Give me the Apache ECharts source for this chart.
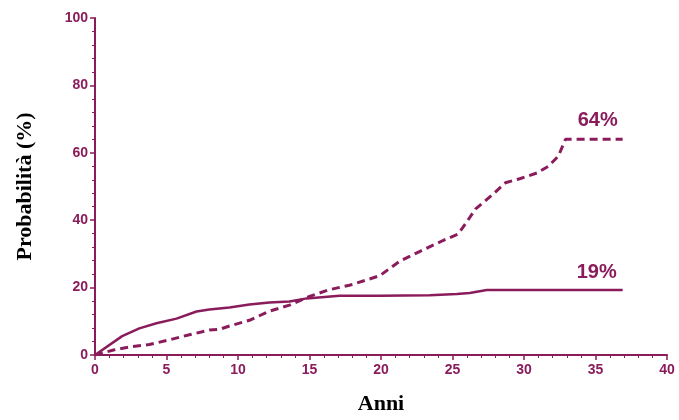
<!DOCTYPE html>
<html>
<head>
<meta charset="utf-8">
<script src="https://cdn.jsdelivr.net/npm/echarts@6/dist/echarts.min.js"></script>
<style>html,body{margin:0;padding:0;background:#fff}#c{width:679px;height:420px}</style>
</head>
<body>
<div id="c"></div>
<script>
// Solid curve (ends at 19%)
var solidSeries = [[0,0],[1.9,5.6],[3.1,7.9],[4.3,9.4],[5.7,10.8],[7.1,12.9],[8,13.5],[9.4,14.1],[10.8,15],[12.2,15.6],[13.6,15.9],[14.8,16.8],[17.1,17.6],[19.9,17.6],[23.4,17.7],[25.3,18.1],[26.2,18.4],[27.4,19.3],[33.9,19.3],[36.9,19.3]];
// Dashed curve (ends at 64%)
var dashedSeries = [[0,0],[1.3,1.5],[2.4,2.4],[3.8,3.1],[5.2,4.5],[6.6,6],[8,7.4],[8.7,7.6],[9.4,8.6],[10.8,10.3],[12.2,13],[13.6,14.8],[15,17.4],[16.4,19.4],[17.8,20.7],[19.9,23.5],[21.3,27.8],[22.7,30.7],[24.3,33.9],[25.4,35.9],[26,39.5],[26.6,43.3],[27.8,47.6],[28.7,51.1],[29.7,52.3],[30.9,54],[31.7,56],[32.4,59],[32.9,64],[36.9,64]];
var endLabels = ['19%', '64%'];
var xTitle = 'Anni';
var yTitle = 'Probabilità (%)';

var C = '#8a1c5b';
var chart = echarts.init(document.getElementById('c'));
var tickFont = {color: C, fontFamily: 'Liberation Sans, Arial, sans-serif', fontWeight: 'bold', fontSize: 14};
var titleFont = {color: '#000', fontFamily: 'Liberation Serif, Times New Roman, serif', fontWeight: 'bold', fontSize: 22};
chart.setOption({
  animation: false,
  grid: {left: 95, right: 12, top: 18, bottom: 63},
  xAxis: {
    type: 'value', min: 0, max: 40, interval: 5,
    name: xTitle, nameLocation: 'middle', nameGap: 38,
    nameTextStyle: titleFont,
    axisLine: {show: true, lineStyle: {color: C, width: 2}},
    axisTick: {show: true, length: 5, lineStyle: {color: C, width: 1.5}},
    minorTick: {show: true, splitNumber: 5, length: 3, lineStyle: {color: C, width: 1}},
    axisLabel: Object.assign({margin: 8}, tickFont),
    splitLine: {show: false}
  },
  yAxis: {
    type: 'value', min: 0, max: 100, interval: 20,
    name: yTitle, nameLocation: 'middle', nameGap: 59,
    nameTextStyle: titleFont,
    axisLine: {show: true, lineStyle: {color: C, width: 2}},
    axisTick: {show: true, length: 5, lineStyle: {color: C, width: 1.5}},
    minorTick: {show: true, splitNumber: 5, length: 3, lineStyle: {color: C, width: 1}},
    axisLabel: Object.assign({margin: 7}, tickFont),
    splitLine: {show: false}
  },
  series: [
    {
      type: 'line', data: solidSeries, symbol: 'none', z: 3,
      lineStyle: {color: C, width: 2.5},
      endLabel: {show: true, formatter: endLabels[0], offset: [-54, -17], color: C,
        fontFamily: 'Liberation Sans, Arial, sans-serif', fontWeight: 'bold', fontSize: 20}
    },
    {
      type: 'line', data: dashedSeries, symbol: 'none', z: 3,
      lineStyle: {color: C, width: 3, type: [8, 5]},
      endLabel: {show: true, formatter: endLabels[1], offset: [-53, -19], color: C,
        fontFamily: 'Liberation Sans, Arial, sans-serif', fontWeight: 'bold', fontSize: 20}
    }
  ]
});
</script>
</body>
</html>
